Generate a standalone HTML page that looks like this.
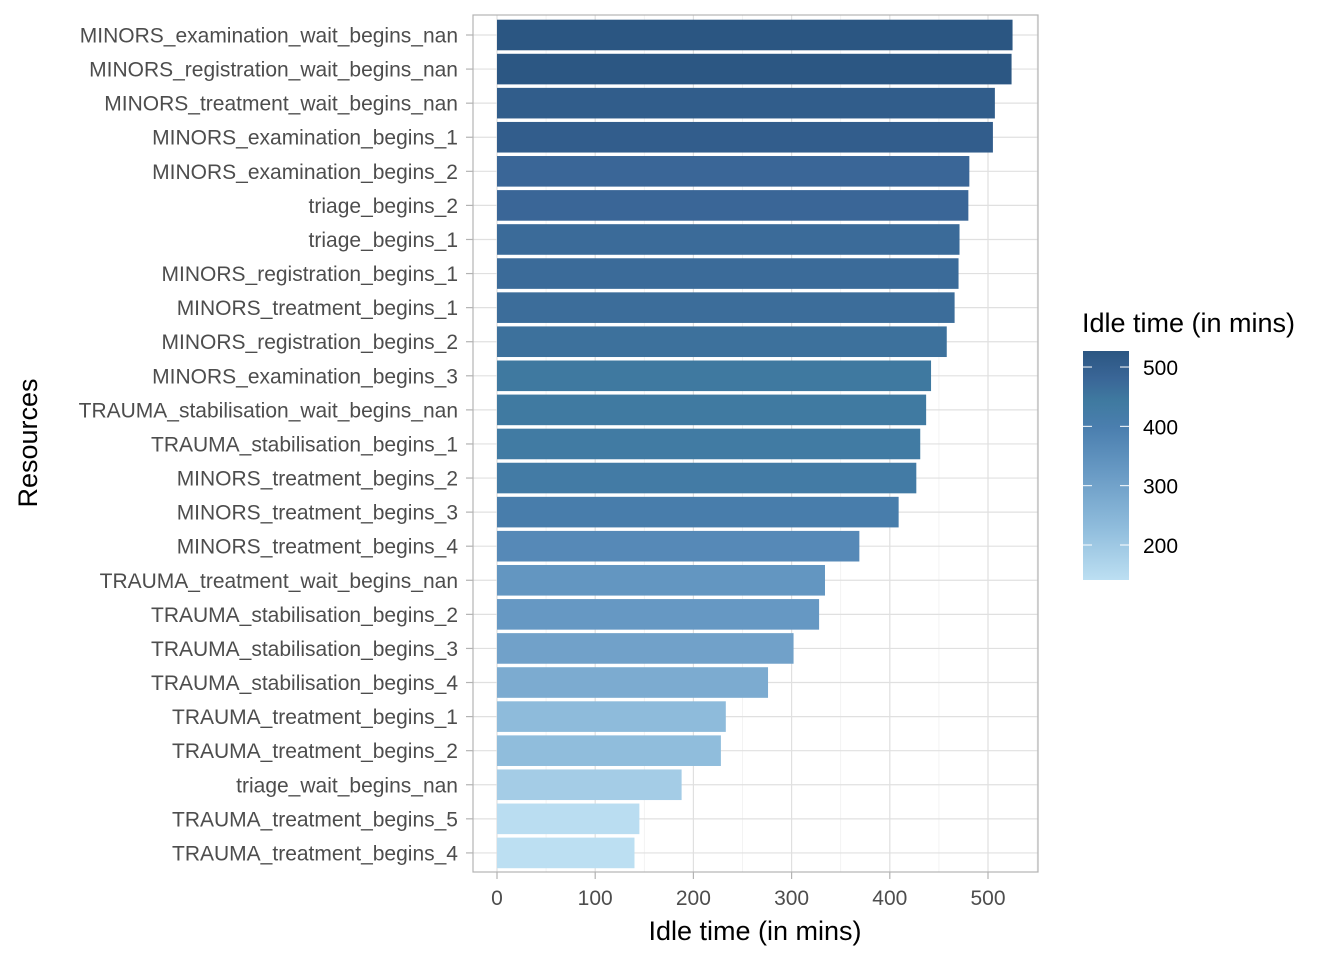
<!DOCTYPE html>
<html><head><meta charset="utf-8"><style>
body{margin:0;background:#fff;}
svg text{font-family:"Liberation Sans",Arial,sans-serif;}
</style></head><body>
<svg id="chart" width="1344" height="960" xmlns="http://www.w3.org/2000/svg">
<defs>
<linearGradient id="lg" x1="0" y1="1" x2="0" y2="0">
<stop offset="0" stop-color="#BCDFF2"/>
<stop offset="0.23" stop-color="#8FBCDC"/>
<stop offset="0.49" stop-color="#6597C2"/>
<stop offset="0.67" stop-color="#4A7EAE"/>
<stop offset="0.78" stop-color="#3F7AA0"/>
<stop offset="0.88" stop-color="#3A6697"/>
<stop offset="1" stop-color="#2B5682"/>
</linearGradient>
</defs>
<g id="grid"></g>
<g id="bars"></g>
<rect x="473" y="15" width="565" height="857" fill="none" stroke="#b3b3b3" stroke-width="1.2"/>
<g id="axes"></g>
<text x="755" y="940" font-size="27" text-anchor="middle" fill="#000">Idle time (in mins)</text>
<text transform="translate(37,443) rotate(-90)" font-size="27" text-anchor="middle" fill="#000">Resources</text>
<g>
<text x="1082" y="332" font-size="27" fill="#000">Idle time (in mins)</text>
<rect x="1083" y="351" width="46" height="229" fill="url(#lg)"/>
<g id="legend-ticks"></g>
</g>
</svg>
<script>
const categories=["MINORS_examination_wait_begins_nan","MINORS_registration_wait_begins_nan","MINORS_treatment_wait_begins_nan","MINORS_examination_begins_1","MINORS_examination_begins_2","triage_begins_2","triage_begins_1","MINORS_registration_begins_1","MINORS_treatment_begins_1","MINORS_registration_begins_2","MINORS_examination_begins_3","TRAUMA_stabilisation_wait_begins_nan","TRAUMA_stabilisation_begins_1","MINORS_treatment_begins_2","MINORS_treatment_begins_3","MINORS_treatment_begins_4","TRAUMA_treatment_wait_begins_nan","TRAUMA_stabilisation_begins_2","TRAUMA_stabilisation_begins_3","TRAUMA_stabilisation_begins_4","TRAUMA_treatment_begins_1","TRAUMA_treatment_begins_2","triage_wait_begins_nan","TRAUMA_treatment_begins_5","TRAUMA_treatment_begins_4"];
const values=[525,524,507,505,481,480,471,470,466,458,442,437,431,427,409,369,334,328,302,276,233,228,188,145,140];
const xTicks=[0,100,200,300,400,500];
const legendTicks=[200,300,400,500];
const NS="http://www.w3.org/2000/svg";
const x=v=>497+v*0.982;
const y=i=>35+i*34.08;
const ly=v=>580-(v-141)*(229/386);
const stops=[[140,[188,223,242]],[230,[143,188,220]],[330,[101,151,194]],[400,[74,126,174]],[440,[63,122,160]],[480,[58,102,151]],[526,[43,86,130]]];
function col(v){for(let k=0;k<stops.length-1;k++){const[a,ca]=stops[k],[b,cb]=stops[k+1];if(v<=b||k==stops.length-2){const t=Math.max(0,Math.min(1,(v-a)/(b-a)));return"rgb("+ca.map((c,j)=>Math.round(c+(cb[j]-c)*t)).join(",")+")";}}}
function mk(t,at,parent){const e=document.createElementNS(NS,t);for(const k in at)e.setAttribute(k,at[k]);document.getElementById(parent).appendChild(e);return e;}
const grid="grid";
for(let v=50;v<=550;v+=100){const l=mk("line",{x1:x(v),x2:x(v),y1:15,y2:872,stroke:"#f0f0f0","stroke-width":0.8},grid);

}
xTicks.forEach(v=>{const l=mk("line",{x1:x(v),x2:x(v),y1:15,y2:872,stroke:"#e0e0e0","stroke-width":1.2},grid);


const t=mk("line",{x1:x(v),x2:x(v),y1:872,y2:879,stroke:"#b3b3b3","stroke-width":1.2},"axes");


const tx=mk("text",{x:x(v),y:905,"font-size":21,"text-anchor":"middle",fill:"#4d4d4d"},"axes");tx.textContent=v;

});
categories.forEach((c,i)=>{const g=mk("line",{x1:473,x2:1038,y1:y(i),y2:y(i),stroke:"#e0e0e0","stroke-width":1.2},grid);


const b=mk("rect",{x:x(0),y:y(i)-15.3,width:x(values[i])-x(0),height:30.6,fill:col(values[i])},"bars");


const t=mk("line",{x1:466,x2:473,y1:y(i),y2:y(i),stroke:"#b3b3b3","stroke-width":1.2},"axes");


const tx=mk("text",{x:458,y:y(i)+7.5,"font-size":21,"text-anchor":"end",fill:"#4d4d4d"},"axes");tx.textContent=c;

});
legendTicks.forEach(v=>{const a=mk("line",{x1:1083,x2:1092,y1:ly(v),y2:ly(v),stroke:"#fff","stroke-width":1},"legend-ticks");


const b=mk("line",{x1:1120,x2:1129,y1:ly(v),y2:ly(v),stroke:"#fff","stroke-width":1},"legend-ticks");


const tx=mk("text",{x:1143,y:ly(v)+8,"font-size":21,fill:"#000"},"legend-ticks");tx.textContent=v;

});
</script>
</body></html>
